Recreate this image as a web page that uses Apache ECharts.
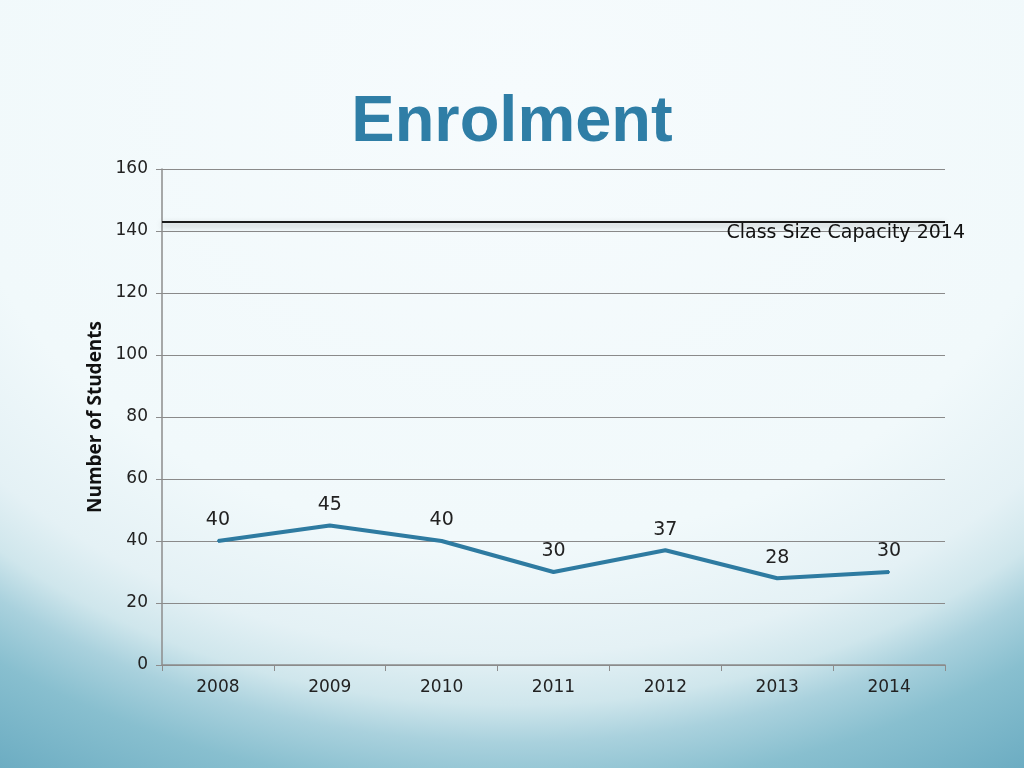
<!DOCTYPE html>
<html>
<head>
<meta charset="utf-8">
<script src="https://cdn.jsdelivr.net/npm/echarts@6/dist/echarts.min.js"></script>
<style>
html,body{margin:0;padding:0;width:1024px;height:768px;overflow:hidden;}
body{background:
 radial-gradient(ellipse 800px 630px at 50% 100px, #f6fbfd 0%, #f1f9fb 70%, #e4f1f5 88%, #cfe6ec 96%, #a9d1dd 102%, #88bfcf 110%, #6aabc1 125%, #5a9fb8 140%);}
#c{width:1024px;height:768px;}
</style>
</head>
<body>
<div id="c"></div>
<script>
var years = ['2008','2009','2010','2011','2012','2013','2014'];
var students = [40, 45, 40, 30, 37, 28, 30];
var capacity = 143;
var capacityLabel = 'Class Size Capacity 2014';
var titleText = 'Enrolment';
var yAxisName = 'Number of Students';

var chart = echarts.init(document.getElementById('c'), null, {renderer:'canvas'});
chart.setOption({
  backgroundColor: 'transparent',
  title: {
    text: titleText, left: 'center', top: 86,
    textStyle: {fontFamily: 'Liberation Sans, Arial, sans-serif', fontWeight: 'bold', fontSize: 65, color: '#2F7EA6'}
  },
  grid: {left: 162, right: 79, top: 169, bottom: 103},
  xAxis: {
    type: 'category', data: years, boundaryGap: true,
    axisLine: {lineStyle: {color: '#8c8c8c', width: 1.5}},
    axisTick: {show: true, length: 6, lineStyle: {color: '#8c8c8c'}},
    axisLabel: {margin: 14, fontSize: 17, color: '#222', fontFamily: 'DejaVu Sans, sans-serif'}
  },
  yAxis: {
    type: 'value', min: 0, max: 160, interval: 20,
    name: yAxisName, nameLocation: 'middle', nameGap: 55, nameRotate: 90,
    nameTextStyle: {fontSize: 19, fontWeight: 'bold', color: '#111', fontFamily: 'Open Sans, sans-serif'},
    axisLine: {show: true, lineStyle: {color: '#8c8c8c', width: 1.5}},
    axisTick: {show: true, length: 6, lineStyle: {color: '#8c8c8c'}},
    axisLabel: {margin: 14, fontSize: 17, color: '#222', fontFamily: 'DejaVu Sans, sans-serif'},
    splitLine: {lineStyle: {color: '#8a8a8a', width: 1.2}}
  },
  series: [{
    type: 'line', data: students, symbol: 'circle', symbolSize: 2, showSymbol: true,
    itemStyle: {color: '#2E7BA1'},
    lineStyle: {color: '#2E7BA1', width: 4},
    label: {show: true, position: 'top', distance: 10, fontSize: 19, color: '#222', fontFamily: 'DejaVu Sans, sans-serif'},
    markLine: {
      silent: true, symbol: 'none',
      data: [{yAxis: capacity}],
      lineStyle: {color: '#1a1a1a', width: 2, type: 'solid', shadowColor: 'rgba(0,0,0,0.35)', shadowBlur: 6, shadowOffsetY: 3},
      label: {show: true, position: 'insideEndBottom', formatter: capacityLabel, distance: 2, offset: [22, 0],
        fontSize: 19, color: '#111', fontFamily: 'DejaVu Sans, sans-serif'}
    }
  }]
});
</script>
</body>
</html>
